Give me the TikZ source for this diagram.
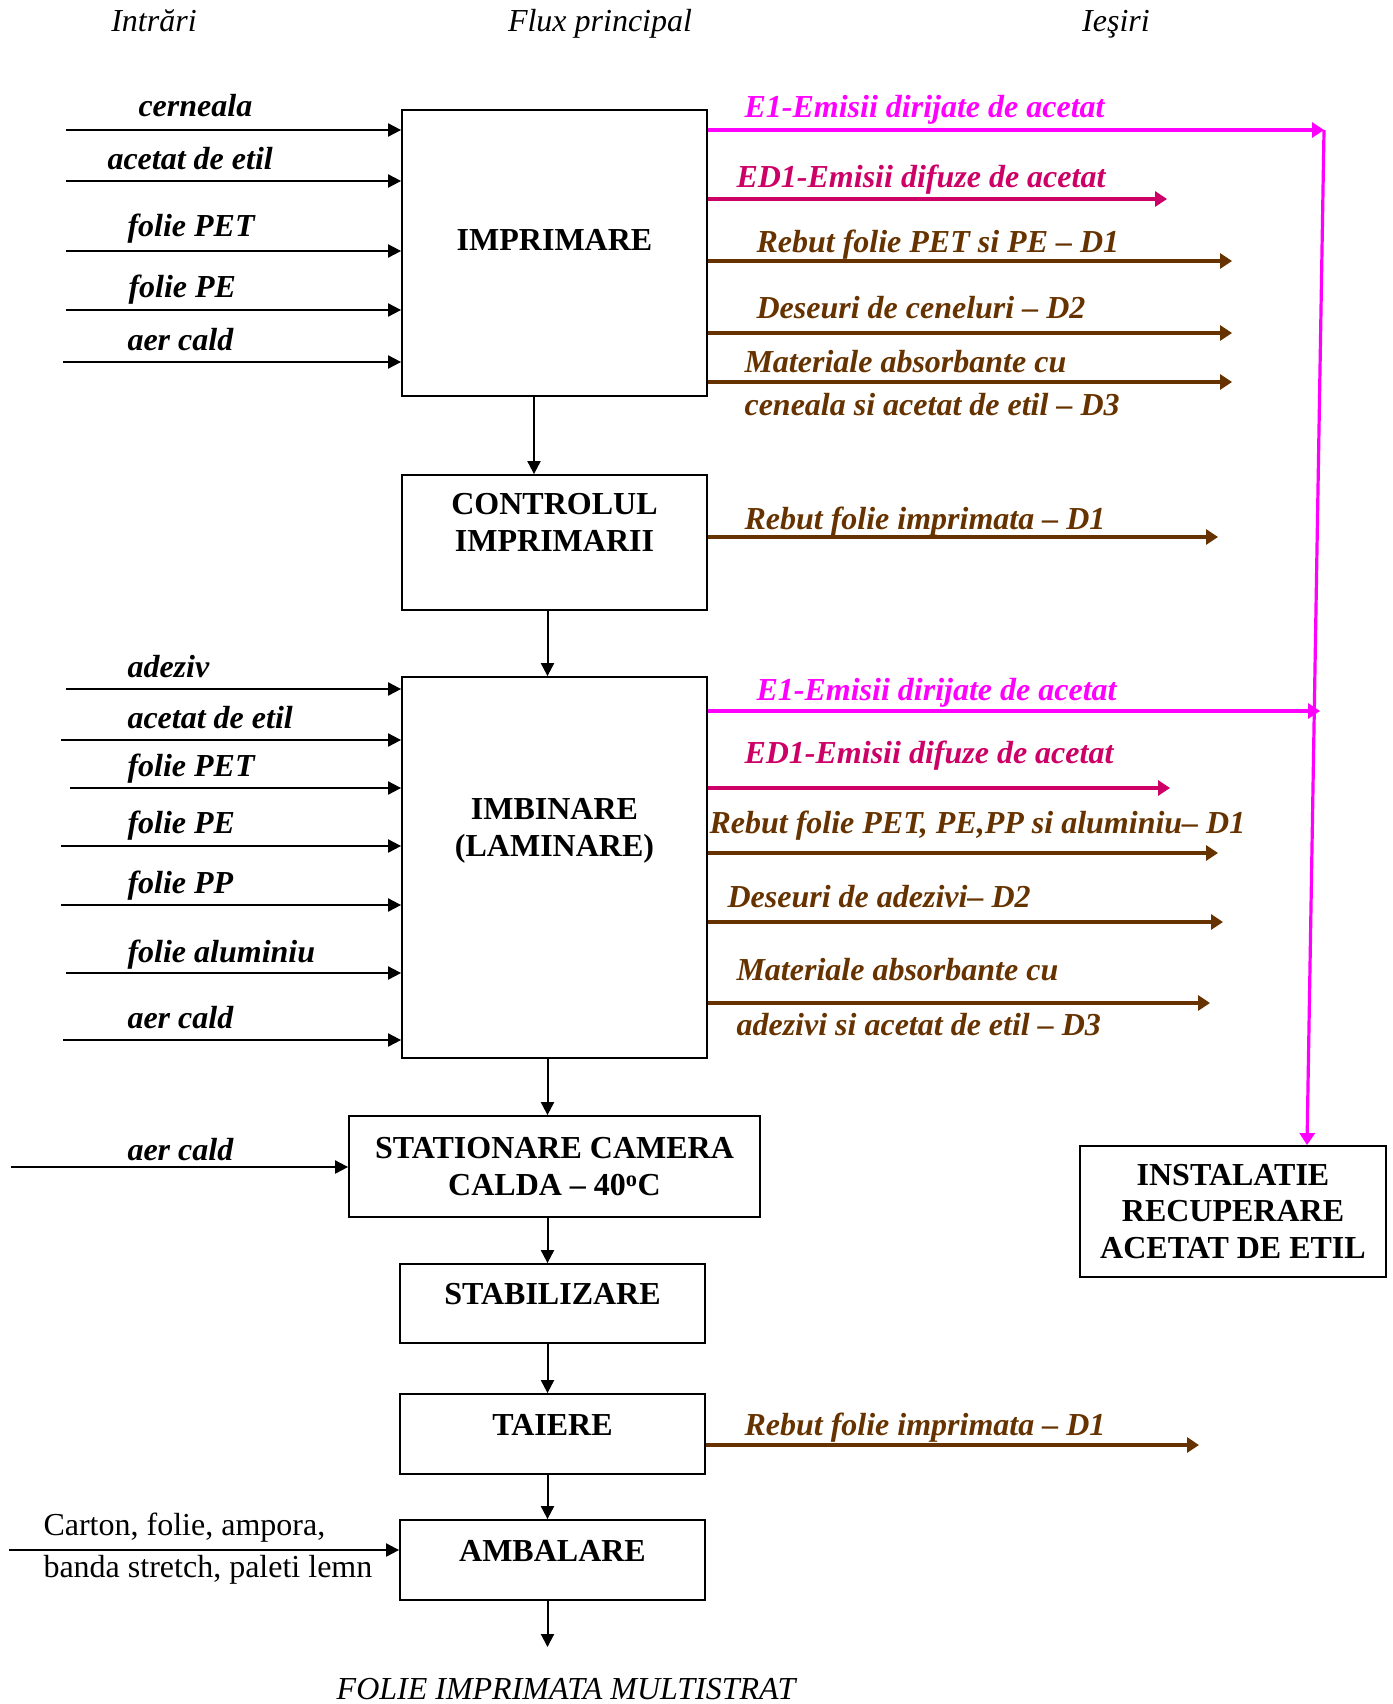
\documentclass[tikz,border=0pt]{standalone}
\usepackage{fontspec}
\setmainfont{Liberation Serif}
\usetikzlibrary{arrows.meta}
\definecolor{emisie}{RGB}{255,0,255}
\definecolor{difuz}{RGB}{204,0,102}
\definecolor{deseu}{RGB}{102,51,0}

\begin{document}
\begin{tikzpicture}[x=1pt, y=-1pt,
    font=\fontsize{32}{36.5}\selectfont,
    proces/.style={draw, line width=1.8pt, align=center, inner sep=0pt,
        font=\fontsize{32}{36.5}\selectfont\bfseries},
    intrare/.style={anchor=base west, xshift=-4pt, yshift=-10pt,
        font=\fontsize{32}{36.5}\selectfont\bfseries\itshape},
    antet/.style={anchor=base, yshift=-10pt,
        font=\fontsize{32}{36.5}\selectfont\itshape},
    sageata/.style={line width=2pt, -{Triangle[length=13pt,width=13pt]}},
    evacuare/.style={line width=3.2pt, -{Triangle[length=12pt,width=15pt]}},
  ]
    \useasboundingbox (0,0) rectangle (1392,1704);

    % antet coloane
    \node[antet] (hin)  at (154,22)  {Intrări};
    \node[antet] (hflx) at (600,22)  {Flux principal};
    \node[antet] (hout) at (1116,22) {Ieşiri};

    % fluxul principal
    \node[proces, minimum width=305, minimum height=286, text depth=26pt]
        (imprimare) at (554.5,253) {IMPRIMARE};
    \node[proces, minimum width=305, minimum height=135, text depth=40pt]
        (control) at (554.5,542.5) {CONTROLUL\\IMPRIMARII};
    \node[proces, minimum width=305, minimum height=381, text depth=80pt]
        (imbinare) at (554.5,867.5) {IMBINARE\\(LAMINARE)};
    \node[proces, minimum width=411, minimum height=101]
        (stationare) at (554.5,1166.5) {STATIONARE CAMERA\\CALDA – 40\textsuperscript{o}C};
    \node[proces, minimum width=305, minimum height=79, text depth=20pt]
        (stabilizare) at (552.5,1303.5) {STABILIZARE};
    \node[proces, minimum width=305, minimum height=80, text depth=18pt]
        (taiere) at (552.5,1434) {TAIERE};
    \node[proces, minimum width=305, minimum height=80, text depth=18pt]
        (ambalare) at (552.5,1560) {AMBALARE};
    \node[proces, minimum width=306, minimum height=131]
        (instalatie) at (1233,1211.5) {INSTALATIE\\RECUPERARE\\ACETAT DE ETIL};

    \draw[sageata] ([xshift=-20.5]imprimare.south) -- ([xshift=-20.5]control.north);
    \draw[sageata] ([xshift=-7]control.south) -- ([xshift=-7]imbinare.north);
    \draw[sageata] ([xshift=-7]imbinare.south) -- ([xshift=-7]stationare.north);
    \draw[sageata] ([xshift=-7]stationare.south) -- ([xshift=-5]stabilizare.north);
    \draw[sageata] ([xshift=-5]stabilizare.south) -- ([xshift=-5]taiere.north);
    \draw[sageata] ([xshift=-5]taiere.south) -- ([xshift=-5]ambalare.north);
    \coordinate (produs) at (547.5,1647);
    \draw[sageata] ([xshift=-5]ambalare.south) -- (produs);
    \node[antet] (final) at (566,1689) {FOLIE IMPRIMATA MULTISTRAT};

    % intrari imprimare
    \foreach \ay/\ax/\lx/\ly/\txt [count=\i] in {130/66/139/107/cerneala,
        181/66/108/160/acetat de etil, 251/66/128/227/folie PET,
        310/66/129/287/folie PE, 362/63/128/340/aer cald} {
        \coordinate (pin\i) at (\ax,\ay);
        \draw[sageata] (pin\i) -- (pin\i -| imprimare.west);
        \node[intrare] (lpin\i) at (\lx,\ly) {\txt};
    }

    % intrari imbinare
    \foreach \ay/\ax/\lx/\ly/\txt [count=\i] in {689/66/128/667/adeziv,
        740/61/128/718/acetat de etil, 788/70/128/766/folie PET,
        846/61/128/823/folie PE, 905/61/128/883/folie PP,
        973/66/128/952/folie aluminiu, 1040/63/128/1018/aer cald} {
        \coordinate (lin\i) at (\ax,\ay);
        \draw[sageata] (lin\i) -- (lin\i -| imbinare.west);
        \node[intrare] (llin\i) at (\lx,\ly) {\txt};
    }

    % intrari stationare si ambalare
    \coordinate (sin) at (11,1167);
    \draw[sageata] (sin) -- (sin -| stationare.west);
    \node[intrare] (lsin) at (128,1150) {aer cald};
    \coordinate (ain) at (9,1550);
    \draw[sageata] (ain) -- (ain -| ambalare.west);
    \node[anchor=base west, yshift=-10pt] (lain1) at (40,1525) {Carton, folie, ampora,};
    \node[anchor=base west, yshift=-10pt] (lain2) at (40,1567) {banda stretch, paleti lemn};

    % iesiri imprimare
    \coordinate (e1a) at (1324,130);
    \coordinate (ed1a) at (1167,199);
    \coordinate (d1a) at (1232,261);
    \coordinate (d2a) at (1232,333);
    \coordinate (d3a) at (1232,382);
    \draw[evacuare, emisie] (e1a -| imprimare.east) -- (e1a);
    \draw[evacuare, difuz] (ed1a -| imprimare.east) -- (ed1a);
    \draw[evacuare, deseu] (d1a -| imprimare.east) -- (d1a);
    \draw[evacuare, deseu] (d2a -| imprimare.east) -- (d2a);
    \draw[evacuare, deseu] (d3a -| imprimare.east) -- (d3a);
    \node[intrare, emisie] (le1a) at (745,108) {E1-Emisii dirijate de acetat};
    \node[intrare, difuz] (led1a) at (737,178) {ED1-Emisii difuze de acetat};
    \node[intrare, deseu] (ld1a) at (757,243) {Rebut folie PET si PE – D1};
    \node[intrare, deseu] (ld2a) at (757,308) {Deseuri de ceneluri – D2};
    \node[intrare, deseu] (ld3a) at (745,362) {Materiale absorbante cu};
    \node[intrare, deseu] (ld3a2) at (745,405) {ceneala si acetat de etil – D3};

    % iesire control
    \coordinate (d1b) at (1218,537);
    \draw[evacuare, deseu] (d1b -| control.east) -- (d1b);
    \node[intrare, deseu] (ld1b) at (745,519) {Rebut folie imprimata – D1};

    % iesiri imbinare
    \coordinate (e1b) at (1320,711);
    \coordinate (ed1b) at (1170,788);
    \coordinate (d1c) at (1218,853);
    \coordinate (d2b) at (1223,922);
    \coordinate (d3b) at (1210,1003);
    \draw[evacuare, emisie] (e1b -| imbinare.east) -- (e1b);
    \draw[evacuare, difuz] (ed1b -| imbinare.east) -- (ed1b);
    \draw[evacuare, deseu] (d1c -| imbinare.east) -- (d1c);
    \draw[evacuare, deseu] (d2b -| imbinare.east) -- (d2b);
    \draw[evacuare, deseu] (d3b -| imbinare.east) -- (d3b);
    \node[intrare, emisie] (le1b) at (757,690) {E1-Emisii dirijate de acetat};
    \node[intrare, difuz] (led1b) at (745,753) {ED1-Emisii difuze de acetat};
    \node[intrare, deseu] (ld1c) at (710,823) {Rebut folie PET, PE,PP si aluminiu– D1};
    \node[intrare, deseu] (ld2b) at (728,897) {Deseuri de adezivi– D2};
    \node[intrare, deseu] (ld3b) at (737,970) {Materiale absorbante cu};
    \node[intrare, deseu] (ld3b2) at (737,1025) {adezivi si acetat de etil – D3};

    % iesire taiere
    \coordinate (d1d) at (1199,1445);
    \draw[evacuare, deseu] (d1d -| taiere.east) -- (d1d);
    \node[intrare, deseu] (ld1d) at (745,1425) {Rebut folie imprimata – D1};

    % colectare emisii dirijate
    \draw[evacuare, emisie] (e1a) -- ([xshift=74]instalatie.north);
\end{tikzpicture}
\end{document}
